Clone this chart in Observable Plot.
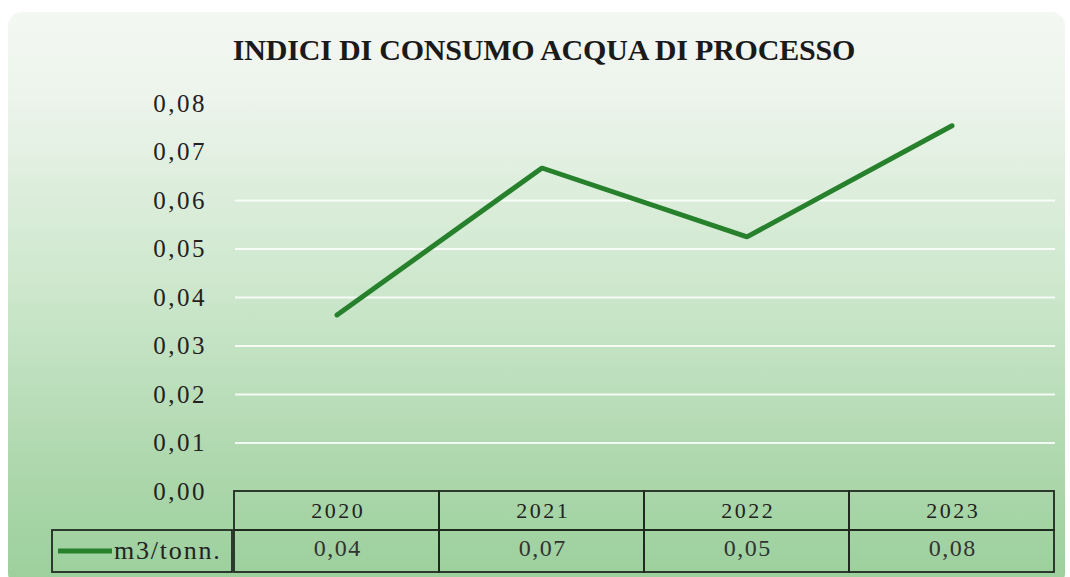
<!DOCTYPE html>
<html>
<head>
<meta charset="utf-8">
<script src="https://cdn.jsdelivr.net/npm/d3@7"></script>
<script src="https://cdn.jsdelivr.net/npm/@observablehq/plot@0.6"></script>
<style>
  html, body { margin: 0; padding: 0; background: #ffffff; }
  #wrap { position: relative; width: 1070px; height: 577px; overflow: hidden; }
  #card {
    position: absolute; left: 8px; top: 12px; width: 1057px; height: 575px;
    border-radius: 14px;
    background: linear-gradient(to bottom, #f4f8f3 0%, #ecf4eb 15%, #d9ecd8 35%, #c6e4c6 55%, #b2d9b1 75%, #a5d4a5 88%, #9ccf9c 100%);
  }
  #title {
    position: absolute; left: 0; width: 1088px; top: 33px; text-align: center;
    font-family: "Liberation Serif", serif; font-weight: bold; font-size: 30px;
    line-height: 34px; color: #1a1a1a; letter-spacing: -0.2px;
  }
  #chart { position: absolute; left: 0; top: 0; }
</style>
</head>
<body>
<div id="wrap">
  <div id="card"></div>
  <div id="title">INDICI DI CONSUMO ACQUA DI PROCESSO</div>
  <div id="chart"></div>
</div>
<script>
const years = ["2020", "2021", "2022", "2023"];
const values = [0.0364, 0.0667, 0.0525, 0.0754];
const yTicks = [0, 0.01, 0.02, 0.03, 0.04, 0.05, 0.06, 0.07, 0.08];
const gridTicks = [0.01, 0.02, 0.03, 0.04, 0.05, 0.06];
const seriesName = "m3/tonn.";

const data = years.map((y, i) => ({year: y, value: values[i]}));
const fmt = v => d3.format(".2f")(v).replace(".", ",");
const lineColor = "#27802b";
const borderColor = "#1f2a1f";

const legendCell = (index, scales, values, dims) => {
  const g = d3.create("svg:g");
  const top = dims.height - dims.marginBottom + 39;
  const bottom = dims.height - dims.marginBottom + 81;
  g.append("rect")
    .attr("x", 52).attr("y", top)
    .attr("width", dims.marginLeft - 52).attr("height", bottom - top)
    .attr("fill", "none").attr("stroke", borderColor).attr("stroke-width", 1.8);
  g.append("line")
    .attr("x1", 58).attr("x2", 112)
    .attr("y1", (top + bottom) / 2).attr("y2", (top + bottom) / 2)
    .attr("stroke", lineColor).attr("stroke-width", 5);
  g.append("text")
    .attr("x", 114).attr("y", (top + bottom) / 2)
    .attr("dy", "0.32em")
    .attr("text-anchor", "start")
    .attr("font-family", "Liberation Serif, serif")
    .attr("font-size", 26)
    .attr("letter-spacing", "1.8px")
    .attr("fill", "#222")
    .text(seriesName);
  return g.node();
};

const chart = Plot.plot({
  width: 1070,
  height: 577,
  marginTop: 103,
  marginBottom: 86,
  marginLeft: 232,
  marginRight: 15,
  style: {background: "transparent", fontFamily: "Liberation Serif, serif", overflow: "visible"},
  x: {domain: years, padding: 0, axis: null},
  y: {domain: [0, 0.08], axis: null},
  marks: [
    Plot.ruleY(gridTicks, {stroke: "#ffffff", strokeWidth: 2, strokeOpacity: 0.85, insetLeft: 3}),
    Plot.text(yTicks, {
      y: d => d, text: fmt, frameAnchor: "left", dx: -28, textAnchor: "end",
      fontSize: 25, fill: "#222", ariaDescription: "ytick-labels"
    }),
    Plot.line(data, {x: "year", y: "value", stroke: lineColor, strokeWidth: 5, strokeLinejoin: "miter"}),
    // table row 1: years
    Plot.barY(years, {x: d => d, y1: 0, y2: 0, insetTop: 0, insetBottom: -39,
      fill: "none", stroke: borderColor, strokeWidth: 1.8}),
    Plot.text(years, {x: d => d, frameAnchor: "bottom", dy: 26, text: d => d,
      fontSize: 22, fill: "#222", ariaDescription: "year-labels"}),
    // table row 2: values
    Plot.barY(data, {x: "year", y1: 0, y2: 0, insetTop: 39, insetBottom: -81,
      fill: "none", stroke: borderColor, strokeWidth: 1.8}),
    Plot.text(data, {x: "year", frameAnchor: "bottom", dy: 64, text: d => fmt(d.value),
      fontSize: 24, fill: "#333", ariaDescription: "value-labels"}),
    legendCell
  ]
});
const s = d3.select(chart);
s.selectAll('g[aria-description="ytick-labels"] text').attr("letter-spacing", "2.5px").attr("dx", "2.5px");
s.selectAll('g[aria-description="year-labels"] text').attr("letter-spacing", "2.5px").attr("dx", "1.2px");
s.selectAll('g[aria-description="value-labels"] text').attr("letter-spacing", "1.5px").attr("dx", "0.8px");
document.getElementById("chart").appendChild(chart);
</script>
</body>
</html>
